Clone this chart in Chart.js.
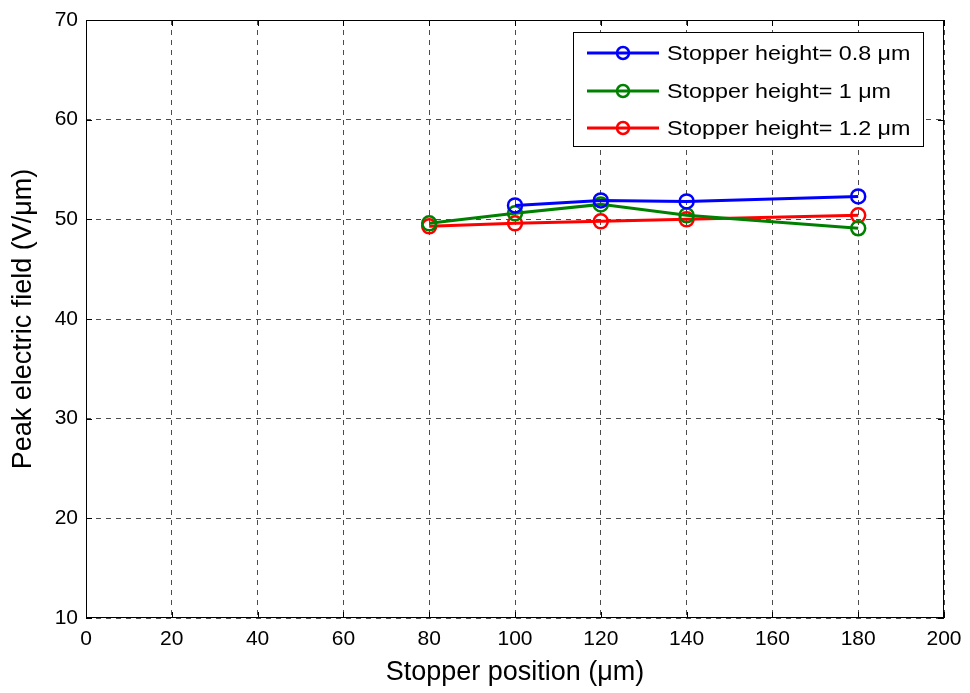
<!DOCTYPE html>
<html>
<head>
<meta charset="utf-8">
<script src="https://cdn.jsdelivr.net/npm/chart.js@4/dist/chart.umd.min.js"></script>
<style>
  html, body { margin: 0; padding: 0; background: #fff; }
  #wrap { width: 970px; height: 693px; }
</style>
</head>
<body>
<div id="wrap"><canvas id="c" width="970" height="693"></canvas></div>
<script>
// Peak electric field versus stopper position for three stopper heights
const positions08 = [100, 120, 140, 180];
const field08     = [51.4, 51.9, 51.8, 52.3];
const positions10 = [80, 100, 120, 140, 180];
const field10     = [49.6, 50.6, 51.5, 50.4, 49.1];
const positions12 = [80, 100, 120, 140, 180];
const field12     = [49.3, 49.6, 49.8, 50.0, 50.4];

const seriesLabels = ['Stopper height= 0.8 \u03bcm', 'Stopper height= 1 \u03bcm', 'Stopper height= 1.2 \u03bcm'];
const seriesColors = ['#0000ff', '#008000', '#ff0000'];
const xTicks = [0, 20, 40, 60, 80, 100, 120, 140, 160, 180, 200];
const yTicks = [10, 20, 30, 40, 50, 60, 70];

const FONT = "Arial, 'Liberation Sans', sans-serif";

function pts(xs, ys) { return xs.map((x, i) => ({ x: x, y: ys[i] })); }

const makeSet = (i, xs, ys) => ({
  label: seriesLabels[i],
  data: pts(xs, ys),
  borderColor: seriesColors[i],
  backgroundColor: 'rgba(0,0,0,0)',
  borderWidth: 3,
  pointRadius: 7,
  pointBorderWidth: 2.5,
  pointBackgroundColor: 'rgba(0,0,0,0)',
  pointBorderColor: seriesColors[i],
  tension: 0
});

// Frame with inward tick marks on all four sides
const framePlugin = {
  id: 'frame',
  afterDraw(chart) {
    const { ctx, chartArea: a, scales } = chart;
    ctx.save();
    ctx.strokeStyle = '#000';
    ctx.lineWidth = 1;
    ctx.strokeRect(a.left + 0.5, a.top + 0.5, a.right - a.left - 1, a.bottom - a.top - 1);
    const L = 6;
    ctx.beginPath();
    xTicks.forEach(v => {
      const x = Math.round(scales.x.getPixelForValue(v)) + 0.5;
      ctx.moveTo(x, a.bottom); ctx.lineTo(x, a.bottom - L);
      ctx.moveTo(x, a.top); ctx.lineTo(x, a.top + L);
    });
    yTicks.forEach(v => {
      const y = Math.round(scales.y.getPixelForValue(v)) + 0.5;
      ctx.moveTo(a.left, y); ctx.lineTo(a.left + L, y);
      ctx.moveTo(a.right, y); ctx.lineTo(a.right - L, y);
    });
    ctx.stroke();
    ctx.restore();
  }
};

// Boxed legend in the upper right of the plot
const legendPlugin = {
  id: 'boxLegend',
  afterDraw(chart) {
    const { ctx } = chart;
    const bx = 573, by = 32, bw = 350, bh = 114;
    ctx.save();
    ctx.fillStyle = '#fff';
    ctx.fillRect(bx, by, bw, bh);
    ctx.strokeStyle = '#000';
    ctx.lineWidth = 1;
    ctx.strokeRect(bx + 0.5, by + 0.5, bw, bh);
    const rows = [53, 91, 128];
    chart.data.datasets.forEach((ds, i) => {
      const y = rows[i];
      ctx.strokeStyle = ds.borderColor;
      ctx.lineWidth = 3;
      ctx.beginPath();
      ctx.moveTo(587, y); ctx.lineTo(659, y);
      ctx.stroke();
      ctx.lineWidth = 2.5;
      ctx.beginPath();
      ctx.arc(623, y, 6, 0, Math.PI * 2);
      ctx.stroke();
      ctx.fillStyle = '#000';
      ctx.font = '21px ' + FONT;
      ctx.textBaseline = 'middle';
      ctx.textAlign = 'left';
      ctx.save();
      ctx.translate(667, y + 1);
      ctx.scale(1.11, 1);
      ctx.fillText(ds.label, 0, 0);
      ctx.restore();
    });
    ctx.restore();
  }
};

new Chart(document.getElementById('c'), {
  type: 'line',
  data: {
    datasets: [
      makeSet(0, positions08, field08),
      makeSet(1, positions10, field10),
      makeSet(2, positions12, field12)
    ]
  },
  options: {
    responsive: false,
    animation: false,
    devicePixelRatio: 1,
    layout: { padding: { top: 20, right: 26, left: 0, bottom: 0 } },
    plugins: { legend: { display: false }, tooltip: { enabled: false } },
    scales: {
      x: {
        type: 'linear', min: 0, max: 200,
        afterBuildTicks(scale) { scale.ticks = xTicks.map(v => ({ value: v })); },
        afterFit(scale) { scale.height = 75; scale.paddingLeft = 0; scale.paddingRight = 0; },
        ticks: { color: '#000', font: { family: FONT, size: 21 }, padding: 9, maxRotation: 0 },
        grid: { color: 'rgba(0,0,0,0.7)', lineWidth: 1, drawTicks: false },
        border: { display: false, dash: [5, 5] },
        title: { display: true, text: 'Stopper position (\u03bcm)', color: '#000', font: { family: FONT, size: 27 }, padding: { top: 0, bottom: 4 } }
      },
      y: {
        type: 'linear', min: 10, max: 70,
        afterBuildTicks(scale) { scale.ticks = yTicks.map(v => ({ value: v })); },
        afterFit(scale) { scale.width = 86; scale.paddingTop = 0; scale.paddingBottom = 0; },
        ticks: { color: '#000', font: { family: FONT, size: 21 }, padding: 8 },
        grid: { color: 'rgba(0,0,0,0.7)', lineWidth: 1, drawTicks: false },
        border: { display: false, dash: [5, 5] },
        title: { display: true, text: 'Peak electric field (V/\u03bcm)', color: '#000', font: { family: FONT, size: 27 }, padding: { top: 7, bottom: 0 } }
      }
    }
  },
  plugins: [framePlugin, legendPlugin]
});
</script>
</body>
</html>
